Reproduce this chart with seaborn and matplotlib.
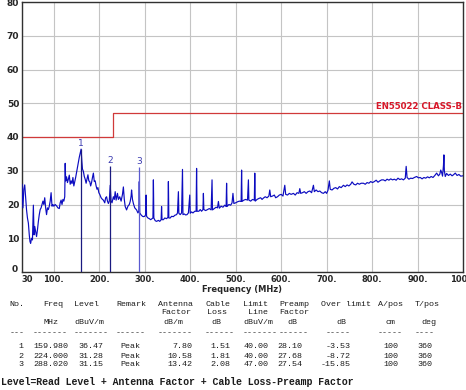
import matplotlib
matplotlib.use("Agg")
import matplotlib.pyplot as plt
import matplotlib.transforms as mtransforms
import seaborn as sns
import pandas as pd

# ---------------- data ----------------
freq = [30, 32, 34, 36, 38, 40, 42, 44, 46, 47.6, 49, 51, 53, 55, 56.5, 58, 60, 62, 64, 66,
        68, 70, 72, 74, 76, 78, 80, 82, 84, 86, 88, 90, 92, 94, 96, 98, 100, 103, 106, 109,
        112, 114, 116, 118, 120, 122, 124, 125, 126, 128, 130, 132, 134, 136, 138, 140, 142, 144, 146, 148,
        150, 152, 154, 156, 158, 160, 161.5, 163, 165, 167, 169, 171, 173, 175, 177, 179, 181, 183, 185, 187,
        189, 191, 193, 195, 197, 199, 201, 204, 207, 209, 212, 214, 216, 218, 220, 222, 224, 226, 228, 231,
        233, 235, 237, 240, 242, 245, 248, 251, 253, 255, 257, 260, 263, 266, 268, 270, 271, 273, 275, 278,
        282, 285, 287, 288, 289, 292, 295, 297, 300, 302, 303, 304, 307, 310, 313, 316, 318, 319, 320, 323,
        326, 330, 333, 336, 337, 338, 341, 344, 348, 351, 352, 353, 356, 359, 363, 366, 370, 372, 374, 375,
        378, 381, 383, 384, 387, 390, 393, 396, 399, 400, 403, 406, 410, 413, 414, 415, 419, 422, 425, 428,
        429, 430, 434, 438, 442, 446, 448, 449, 453, 457, 460, 462, 464, 468, 472, 476, 479, 480, 481, 485,
        489, 492, 494, 496, 500, 504, 508, 512, 513, 514, 518, 522, 526, 528, 529, 533, 537, 541, 542, 543,
        547, 551, 555, 558, 561, 565, 569, 573, 575, 577, 581, 585, 588, 592, 596, 600, 604, 608, 610, 614,
        618, 622, 627, 631, 635, 639, 641, 643, 647, 651, 655, 659, 663, 667, 671, 673, 677, 681, 685, 689,
        693, 697, 700, 703, 706, 708, 712, 716, 720, 724, 728, 732, 737, 741, 745, 749, 753, 756, 760, 764,
        768, 772, 776, 781, 785, 789, 793, 797, 801, 805, 809, 813, 817, 821, 825, 829, 833, 837, 841, 845,
        849, 853, 857, 861, 865, 869, 873, 875, 877, 881, 885, 889, 893, 898, 902, 906, 910, 914, 918, 922,
        926, 930, 934, 938, 942, 946, 949, 951, 953, 955, 957, 958, 959, 961, 964, 968, 972, 976, 979, 983,
        987, 991, 995, 1000]
level = [26.0, 19.0, 24.5, 25.8, 22.0, 18.4, 16.0, 14.5, 11.0, 9.0, 8.5, 10.0, 9.5, 19.8, 11.0, 13.5, 12.0, 10.5, 12.5, 15.0,
         17.0, 18.5, 19.0, 20.0, 21.0, 20.0, 22.0, 19.0, 17.0, 19.0, 18.5, 19.5, 21.0, 23.5, 19.5, 20.0, 19.5, 20.0, 19.6, 19.0,
         18.8, 20.5, 21.3, 20.0, 21.5, 21.0, 22.3, 32.2, 27.0, 28.2, 26.5, 27.5, 28.7, 26.0, 27.0, 26.2, 28.0, 25.5, 26.7, 28.0,
         29.5, 31.0, 32.5, 34.0, 35.2, 36.4, 33.0, 30.5, 29.8, 28.3, 27.5, 26.3, 27.5, 28.8, 27.0, 26.8, 25.5, 26.5, 28.0, 29.3,
         26.8, 27.0, 25.5, 24.5, 25.0, 23.5, 23.0, 22.0, 21.5, 21.3, 20.5, 22.0, 22.3, 21.0, 20.3, 21.0, 25.7, 21.0, 20.5, 22.3,
         21.5, 23.8, 21.3, 23.3, 21.5, 22.3, 21.0, 23.0, 25.2, 21.5, 19.4, 18.4, 19.5, 20.0, 20.9, 22.5, 24.3, 21.5, 20.3, 19.0,
         18.4, 17.5, 18.0, 26.8, 17.5, 16.9, 16.5, 16.4, 16.5, 17.0, 22.8, 16.5, 16.0, 15.8, 15.5, 15.8, 16.0, 27.3, 16.0, 15.2,
         15.0, 15.3, 15.0, 15.5, 19.4, 15.5, 15.5, 16.0, 15.8, 16.2, 26.8, 16.0, 16.0, 16.5, 16.4, 16.8, 17.0, 17.5, 23.8, 17.4,
         17.0, 17.5, 30.4, 17.0, 17.2, 16.9, 17.0, 17.5, 22.8, 17.4, 17.8, 17.5, 18.0, 18.0, 30.7, 18.0, 18.0, 18.5, 18.0, 18.5,
         23.3, 18.5, 18.2, 18.5, 18.8, 18.4, 27.3, 18.4, 18.8, 19.2, 19.0, 20.9, 18.9, 19.5, 19.2, 19.8, 19.4, 26.3, 19.4, 20.0,
         19.8, 20.5, 23.3, 20.3, 20.5, 20.8, 21.0, 20.9, 30.2, 20.9, 21.3, 21.5, 21.3, 27.3, 21.3, 21.0, 21.5, 21.3, 29.3, 21.0,
         21.5, 21.8, 22.0, 21.5, 21.9, 22.3, 22.0, 22.5, 24.3, 22.3, 22.5, 22.8, 22.0, 22.3, 22.8, 23.0, 22.5, 25.7, 23.0, 22.8,
         23.3, 23.0, 23.3, 22.8, 23.5, 23.3, 24.7, 23.3, 23.5, 23.8, 23.3, 23.8, 24.0, 23.5, 25.7, 23.8, 24.3, 23.8, 24.0, 23.5,
         23.3, 23.8, 23.3, 24.2, 27.0, 24.5, 24.3, 24.8, 25.0, 24.6, 25.3, 25.0, 25.7, 25.3, 25.8, 25.5, 26.0, 26.7, 26.0, 25.8,
         26.3, 26.0, 26.3, 26.3, 26.0, 26.5, 26.3, 26.8, 26.5, 26.8, 27.2, 26.6, 27.0, 27.3, 27.3, 27.0, 27.5, 27.2, 27.6, 27.3,
         27.5, 27.2, 27.8, 27.4, 27.6, 27.3, 27.8, 31.3, 28.0, 27.5, 27.8, 27.7, 28.0, 28.3, 27.9, 28.0, 27.6, 28.0, 27.8, 28.2,
         27.9, 28.3, 28.0, 28.6, 29.3, 28.5, 29.0, 30.2, 29.5, 28.4, 31.5, 34.7, 30.0, 28.3, 29.2, 28.6, 29.0, 28.5, 28.8, 29.3,
         28.6, 28.9, 28.4, 28.5]

limit_freq = [30, 230, 1000]
limit_level = [40, 47, 47]
limit_name = "EN55022 CLASS-B"

marker_no = [1, 2, 3]
marker_freq = [159.980, 224.000, 288.020]
marker_level = [36.47, 31.28, 31.15]
marker_remark = ["Peak", "Peak", "Peak"]
antenna_factor = [7.80, 10.58, 13.42]
cable_loss = [1.51, 1.81, 2.08]
limit_line = [40.00, 40.00, 47.00]
preamp_factor = [28.10, 27.68, 27.54]
over_limit = [-3.53, -8.72, -15.85]
a_pos = [100, 100, 100]
t_pos = [360, 360, 360]

x_ticks = [30, 100, 200, 300, 400, 500, 600, 700, 800, 900, 1000]
x_ticklabels = ["30", "100.", "200.", "300.", "400.", "500.", "600.", "700.", "800.", "900.", "1000."]
y_ticks = [0, 10, 20, 30, 40, 50, 60, 70, 80]

# ---------------- figure ----------------
sns.set_style("white")
plt.rcParams["font.family"] = ["DejaVu Sans"]

W, H = 466, 390
fig = plt.figure(figsize=(W / 100, H / 100), dpi=100)
ax = fig.add_axes([22 / W, 1 - 272 / H, 441 / W, 270 / H])

trace = pd.DataFrame({"freq": freq, "level": level})
sns.lineplot(data=trace, x="freq", y="level", ax=ax, color="#0c0cc0", lw=0.85,
             estimator=None, sort=False, zorder=3)

lim = pd.DataFrame({"freq": limit_freq, "level": limit_level})
sns.lineplot(data=lim, x="freq", y="level", ax=ax, color="#d03a3a", lw=0.9,
             drawstyle="steps-post", estimator=None, zorder=2)
ax.text(998, limit_level[-1] + 0.6, limit_name, color="#d8182a", fontsize=6.2,
        fontweight="bold", ha="right", va="bottom", zorder=4)

marker_colors = ["#1a1a80", "#1a1a80", "#5a5ad0"]
for n, f, l, c in zip(marker_no, marker_freq, marker_level, marker_colors):
    ax.vlines(f, 0, l, color=c, lw=0.9, zorder=4)
    ax.text(f, l + 0.3, str(n), color="#3a3ab0", fontsize=6.5, ha="center", va="bottom", zorder=5)

ax.set_xlim(30, 1000)
ax.set_ylim(0, 80)
ax.set_xticks(x_ticks)
ax.set_xticklabels(x_ticklabels, fontsize=6, fontweight="bold")
ax.set_yticks(y_ticks)
ax.set_yticklabels([str(v) for v in y_ticks], fontsize=6.5, fontweight="bold")
ax.tick_params(axis="both", length=0, pad=2)
# shift the corner labels apart like the reference ("0" raised, "30" pushed right)
ax.get_yticklabels()[0].set_transform(ax.get_yticklabels()[0].get_transform() +
                                      mtransforms.ScaledTranslation(-1 / 100, 4 / 100, fig.dpi_scale_trans))
ax.get_xticklabels()[0].set_transform(ax.get_xticklabels()[0].get_transform() +
                                      mtransforms.ScaledTranslation(5 / 100, 0, fig.dpi_scale_trans))
ax.set_xlabel("Frequency (MHz)", fontsize=6, fontweight="bold", labelpad=1)
ax.set_ylabel("")
ax.grid(True, color="#c4c4c4", lw=0.8, zorder=0)
ax.set_axisbelow(True)
for s in ax.spines.values():
    s.set_color("#303030")
    s.set_linewidth(1.0)

# ---------------- table ----------------
mono = "Liberation Mono"
fs = 6


def t(x, y, s, ha="left", bold=False, size=fs):
    fig.text(x / W, 1 - y / H, s, fontsize=size, family=mono, ha=ha, va="center",
             color="#1c1c1c", fontweight="bold" if bold else "normal")


y1, y2, y3, yd = 304, 313, 322, 333
row_y = [346, 356, 365]

headers = [
    (9, "No.", None, None),
    (43, "Freq", None, "MHz"),
    (74, "Level", None, "dBuV/m"),
    (116, "Remark", None, None),
    (158, "Antenna", "Factor", "dB/m"),
    (205, "Cable", "Loss", "dB"),
    (243, "Limit", "Line", "dBuV/m"),
    (279, "Preamp", "Factor", "dB"),
    (321, "Over limit", None, "dB"),
    (378, "A/pos", None, "cm"),
    (415, "T/pos", None, "deg"),
]
sub_x = {"Freq": 43, "Level": 74, "Antenna": 161, "Cable": 207, "Limit": 248, "Preamp": 279}
unit_x = {"Freq": 43, "Level": 74, "Antenna": 163, "Cable": 211, "Limit": 243, "Preamp": 287,
          "Over limit": 336, "A/pos": 386, "T/pos": 421}
for x, h1, h2, h3 in headers:
    t(x, y1, h1)
    if h2:
        t(sub_x[h1], y2, h2)
    if h3:
        t(unit_x[h1], y3, h3)

dashes = [(10, "---"), (33, "-------"), (74, "-------"), (116, "------"), (158, "-------"),
          (205, "------"), (243, "-------"), (279, "------"), (326, "-----"), (378, "-----"),
          (415, "----")]
for x, d in dashes:
    t(x, yd, d)

for i, y in enumerate(row_y):
    t(23, y, str(marker_no[i]), ha="right")
    t(68, y, f"{marker_freq[i]:.3f}", ha="right")
    t(103, y, f"{marker_level[i]:.2f}", ha="right")
    t(120, y, marker_remark[i])
    t(192, y, f"{antenna_factor[i]:.2f}", ha="right")
    t(230, y, f"{cable_loss[i]:.2f}", ha="right")
    t(269, y, f"{limit_line[i]:.2f}", ha="right")
    t(302, y, f"{preamp_factor[i]:.2f}", ha="right")
    t(351, y, f"{over_limit[i]:.2f}", ha="right")
    t(398, y, str(a_pos[i]), ha="right")
    t(432, y, str(t_pos[i]), ha="right")

t(1, 382, "Level=Read Level + Antenna Factor + Cable Loss-Preamp Factor", bold=True, size=7.1)

fig.savefig("out.png", dpi=100)
